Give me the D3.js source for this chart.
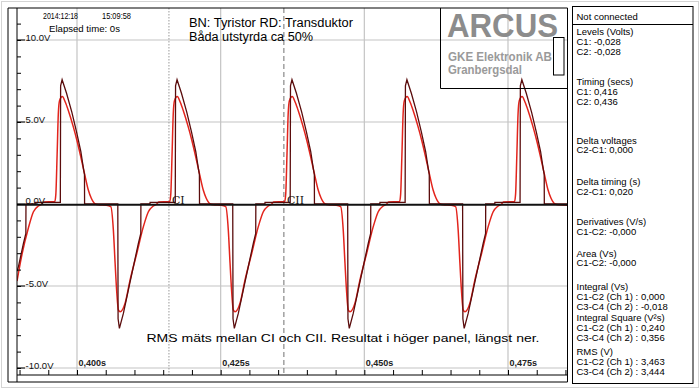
<!DOCTYPE html>
<html>
<head>
<meta charset="utf-8">
<script src="https://cdn.jsdelivr.net/npm/d3@7"></script>
<style>
  body { margin: 0; background: #fff; }
  svg { display: block; }
</style>
</head>
<body>
<svg></svg>
<script>
// BN (thyristor) trace, [time s, volts]
var bnTrace = [
    [0.38956,-4.1],[0.38981,-3.82],[0.39068,-2.4],[0.39110,-1.8],[0.39112,0.0],[0.39270,0.0],[0.39272,0.1],
    [0.39710,0.1],[0.39715,7.2],[0.39741,7.58],[0.39818,6.75],[0.39910,5.6],[0.39992,4.4],[0.40067,3.2],[0.40115,2.1],[0.40130,1.8],[0.40132,0.0],
    [0.40710,0.0],[0.40715,-7.0],[0.40738,-7.58],[0.40807,-6.67],[0.40894,-5.24],[0.40981,-3.82],[0.41068,-2.4],[0.41110,-1.8],[0.41112,0.0],[0.41270,0.0],[0.41272,0.1],
    [0.41710,0.1],[0.41715,7.2],[0.41741,7.58],[0.41818,6.75],[0.41910,5.6],[0.41992,4.4],[0.42067,3.2],[0.42115,2.1],[0.42130,1.8],[0.42132,0.0],
    [0.42710,0.0],[0.42715,-7.0],[0.42738,-7.58],[0.42807,-6.67],[0.42894,-5.24],[0.42981,-3.82],[0.43068,-2.4],[0.43110,-1.8],[0.43112,0.0],[0.43270,0.0],[0.43272,0.1],
    [0.43710,0.1],[0.43715,7.2],[0.43741,7.58],[0.43818,6.75],[0.43910,5.6],[0.43992,4.4],[0.44067,3.2],[0.44115,2.1],[0.44130,1.8],[0.44132,0.0],
    [0.44710,0.0],[0.44715,-7.0],[0.44738,-7.58],[0.44807,-6.67],[0.44894,-5.24],[0.44981,-3.82],[0.45068,-2.4],[0.45110,-1.8],[0.45112,0.0],[0.45270,0.0],[0.45272,0.1],
    [0.45710,0.1],[0.45715,7.2],[0.45741,7.58],[0.45818,6.75],[0.45910,5.6],[0.45992,4.4],[0.46067,3.2],[0.46115,2.1],[0.46130,1.8],[0.46132,0.0],
    [0.46710,0.0],[0.46715,-7.0],[0.46738,-7.58],[0.46807,-6.67],[0.46894,-5.24],[0.46981,-3.82],[0.47068,-2.4],[0.47110,-1.8],[0.47112,0.0],[0.47270,0.0],[0.47272,0.1],
    [0.47710,0.1],[0.47715,7.2],[0.47741,7.58],[0.47818,6.75],[0.47910,5.6],[0.47992,4.4],[0.48067,3.2],[0.48115,2.1],[0.48130,1.8],[0.48132,0.0],[0.48530,0.0]
];

// RD (transductor) trace, [time s, volts]
var rdTrace = [
    [0.38956,-4.7],[0.39041,-3.1],[0.39155,-1.45],[0.39242,-0.47],[0.39329,-0.12],[0.39389,0.0],[0.39420,0.12],
    [0.39614,0.15],[0.39632,0.6],[0.39654,3.0],[0.39675,5.5],[0.39696,6.3],[0.39745,6.55],[0.39797,6.2],[0.39849,5.7],[0.39936,4.7],[0.39997,3.9],[0.40058,3.0],[0.40128,1.9],[0.40197,0.85],[0.40249,0.35],[0.40319,0.0],[0.40371,-0.05],[0.40510,-0.08],
    [0.40588,-0.16],[0.40633,-1.59],[0.40663,-3.6],[0.40693,-5.43],[0.40720,-6.46],[0.40750,-6.57],[0.40837,-6.05],[0.40924,-4.63],[0.41041,-3.0],[0.41155,-1.38],[0.41242,-0.47],[0.41329,-0.12],[0.41389,0.0],[0.41420,0.12],
    [0.41614,0.15],[0.41632,0.6],[0.41654,3.0],[0.41675,5.5],[0.41696,6.3],[0.41745,6.55],[0.41797,6.2],[0.41849,5.7],[0.41936,4.7],[0.41997,3.9],[0.42058,3.0],[0.42128,1.9],[0.42197,0.85],[0.42249,0.35],[0.42319,0.0],[0.42371,-0.05],[0.42510,-0.08],
    [0.42588,-0.16],[0.42633,-1.59],[0.42663,-3.6],[0.42693,-5.43],[0.42720,-6.46],[0.42750,-6.57],[0.42837,-6.05],[0.42924,-4.63],[0.43041,-3.0],[0.43155,-1.38],[0.43242,-0.47],[0.43329,-0.12],[0.43389,0.0],[0.43420,0.12],
    [0.43614,0.15],[0.43632,0.6],[0.43654,3.0],[0.43675,5.5],[0.43696,6.3],[0.43745,6.55],[0.43797,6.2],[0.43849,5.7],[0.43936,4.7],[0.43997,3.9],[0.44058,3.0],[0.44128,1.9],[0.44197,0.85],[0.44249,0.35],[0.44319,0.0],[0.44371,-0.05],[0.44510,-0.08],
    [0.44588,-0.16],[0.44633,-1.59],[0.44663,-3.6],[0.44693,-5.43],[0.44720,-6.46],[0.44750,-6.57],[0.44837,-6.05],[0.44924,-4.63],[0.45041,-3.0],[0.45155,-1.38],[0.45242,-0.47],[0.45329,-0.12],[0.45389,0.0],[0.45420,0.12],
    [0.45614,0.15],[0.45632,0.6],[0.45654,3.0],[0.45675,5.5],[0.45696,6.3],[0.45745,6.55],[0.45797,6.2],[0.45849,5.7],[0.45936,4.7],[0.45997,3.9],[0.46058,3.0],[0.46128,1.9],[0.46197,0.85],[0.46249,0.35],[0.46319,0.0],[0.46371,-0.05],[0.46510,-0.08],
    [0.46588,-0.16],[0.46633,-1.59],[0.46663,-3.6],[0.46693,-5.43],[0.46720,-6.46],[0.46750,-6.57],[0.46837,-6.05],[0.46924,-4.63],[0.47041,-3.0],[0.47155,-1.38],[0.47242,-0.47],[0.47329,-0.12],[0.47389,0.0],[0.47420,0.12],
    [0.47614,0.15],[0.47632,0.6],[0.47654,3.0],[0.47675,5.5],[0.47696,6.3],[0.47745,6.55],[0.47797,6.2],[0.47849,5.7],[0.47936,4.7],[0.47997,3.9],[0.48058,3.0],[0.48128,1.9],[0.48197,0.85],[0.48249,0.35],[0.48319,0.0],[0.48371,-0.05],[0.48530,-0.07]
];

var yTicks = [10, 5, 0, -5, -10];
var yTickLabels = ["10.0V", "5.0V", "0.0V", "-5.0V", "-10.0V"];
var xTicks = [0.400, 0.425, 0.450, 0.475];
var xTickLabels = ["0,400s", "0,425s", "0,450s", "0,475s"];
var cursorTimes = [0.416, 0.436];
var cursorNames = ["CI", "CII"];

var panelRows = [
    "Levels (Volts)", "C1: -0,028", "C2: -0,028",
    "Timing (secs)", "C1: 0,416", "C2: 0,436",
    "Delta voltages", "C2-C1: 0,000",
    "Delta timing (s)", "C2-C1: 0,020",
    "Derivatives (V/s)", "C1-C2: -0,000",
    "Area (Vs)", "C1-C2: -0,000",
    "Integral (Vs)", "C1-C2 (Ch 1) : 0,000", "C3-C4 (Ch 2) : -0,018",
    "Integral Square (V\u00b2s)", "C1-C2 (Ch 1) : 0,240", "C3-C4 (Ch 2) : 0,356",
    "RMS (V)", "C1-C2 (Ch 1) : 3,463", "C3-C4 (Ch 2) : 3,444"
];
// baseline of each panel row
var panelRowY = [35, 45, 55, 85, 94.5, 104.5, 143.5, 153, 185, 194.5, 225, 234.5,
                 256.5, 266, 290, 299.5, 309.5, 321, 331, 341, 354.5, 364.5, 374.5];

var svgWidth = 700, svgHeight = 391;
var plotLeft = 17, plotRight = 567.5, plotTop = 8, plotBottom = 375, frameLeft = 8, frameBottom = 382;
var font = "Liberation Sans, Arial, sans-serif";

var svg = d3.select("svg")
    .attr("width", svgWidth)
    .attr("height", svgHeight)
    .style("background-color", "#fff");

var xScale = d3.scaleLinear().domain([0.400, 0.475]).range([77, 508]),
    yScale = d3.scaleLinear().domain([-10, 10]).range([368, 40]);

// light outer border
svg.append("rect")
    .attr("x", 1.5).attr("y", 1.5).attr("width", svgWidth - 3).attr("height", svgHeight - 5)
    .style("fill", "none").style("stroke", "#d4d4d4");

svg.append("defs").append("clipPath").attr("id", "plotclip")
    .append("rect")
    .attr("x", plotLeft).attr("y", plotTop)
    .attr("width", plotRight - plotLeft).attr("height", plotBottom - plotTop);

// grid
var grid = svg.append("g");
grid.selectAll(".vg").data(xTicks).enter().append("line")
    .attr("x1", function (d) { return xScale(d); })
    .attr("x2", function (d) { return xScale(d); })
    .attr("y1", plotTop).attr("y2", plotBottom)
    .style("stroke", "#c4c4c4").style("stroke-width", 1.2);
grid.selectAll(".hg").data(yTicks.filter(function (d) { return d !== 0; })).enter().append("line")
    .attr("x1", plotLeft).attr("x2", plotRight)
    .attr("y1", function (d) { return yScale(d); })
    .attr("y2", function (d) { return yScale(d); })
    .style("stroke", "#c4c4c4").style("stroke-width", 1.2);

// cursors
svg.selectAll(".cursor").data(cursorTimes).enter().append("line")
    .attr("x1", function (d) { return xScale(d); })
    .attr("x2", function (d) { return xScale(d); })
    .attr("y1", plotTop).attr("y2", plotBottom)
    .style("stroke", function (d, i) { return i === 0 ? "#9a9a9a" : "#707070"; })
    .style("stroke-width", 1)
    .style("stroke-dasharray", function (d, i) { return i === 0 ? "1.5,1.5" : "5,3"; });

// traces
var line = d3.line()
    .x(function (d) { return xScale(d[0]); })
    .y(function (d) { return yScale(d[1]); });

var traces = svg.append("g").attr("clip-path", "url(#plotclip)");

traces.append("path")
    .datum(rdTrace)
    .attr("d", line.curve(d3.curveMonotoneX))
    .style("fill", "none")
    .style("stroke", "#e3241c")
    .style("stroke-width", 1.5);

traces.append("path")
    .datum(bnTrace)
    .attr("d", line.curve(d3.curveLinear))
    .style("fill", "none")
    .style("stroke", "#5a0c0c")
    .style("stroke-width", 1.3);

// zero line
svg.append("line")
    .attr("x1", plotLeft).attr("x2", plotRight)
    .attr("y1", yScale(0) + 0.8).attr("y2", yScale(0) + 0.8)
    .style("stroke", "#111").style("stroke-width", 2);

// cursor names on zero line
svg.selectAll(".cname").data(cursorTimes).enter().append("text")
    .attr("x", function (d) { return xScale(d) + 3; })
    .attr("y", yScale(0) - 0.5)
    .style("font-family", "DejaVu Serif, serif")
    .style("font-size", "11px")
    .style("fill", "#111")
    .text(function (d, i) { return cursorNames[i]; });

// axes: minor ticks
svg.append("g")
    .attr("transform", "translate(" + plotLeft + ",0)")
    .call(d3.axisRight(yScale).tickValues(d3.range(-10, 12)).tickSize(4).tickFormat(""))
    .call(function (g) { g.select(".domain").remove(); })
    .selectAll("line").style("stroke", "#000");

svg.append("g")
    .attr("transform", "translate(0," + plotBottom + ")")
    .call(d3.axisTop(xScale).tickValues(d3.range(78, 98).map(function (i) { return i * 0.005; })).tickSize(5).tickFormat(""))
    .call(function (g) { g.select(".domain").remove(); })
    .selectAll("line").style("stroke", "#000");

// y labels
svg.selectAll(".ytick").data(yTicks).enter().append("line")
    .attr("x1", plotLeft).attr("x2", plotLeft + 8)
    .attr("y1", function (d) { return yScale(d); })
    .attr("y2", function (d) { return yScale(d); })
    .style("stroke", "#000");
svg.selectAll(".ylab").data(yTicks).enter().append("text")
    .attr("x", plotLeft + 8.5)
    .attr("y", function (d) { return yScale(d) - (d === 0 ? 0.5 : -0.5); })
    .style("font-family", font).style("font-size", "9.5px").style("fill", "#111")
    .text(function (d, i) { return yTickLabels[i]; });

// x labels
svg.selectAll(".xlab").data(xTicks).enter().append("text")
    .attr("x", function (d) { return xScale(d) + 1.5; })
    .attr("y", 366)
    .style("font-family", font).style("font-size", "9px").style("font-weight", "bold").style("fill", "#222")
    .text(function (d, i) { return xTickLabels[i]; });

// frame
var frame = svg.append("g").style("stroke", "#000").style("stroke-width", 1).style("fill", "none");
frame.append("line").attr("x1", frameLeft).attr("x2", plotRight).attr("y1", plotTop).attr("y2", plotTop);
frame.append("line").attr("x1", frameLeft).attr("x2", frameLeft).attr("y1", plotTop).attr("y2", frameBottom);
frame.append("line").attr("x1", plotLeft).attr("x2", plotLeft).attr("y1", plotTop).attr("y2", frameBottom);
frame.append("line").attr("x1", plotRight).attr("x2", plotRight).attr("y1", plotTop).attr("y2", frameBottom);
frame.append("line").attr("x1", plotLeft).attr("x2", plotRight).attr("y1", plotBottom).attr("y2", plotBottom);
frame.append("line").attr("x1", frameLeft).attr("x2", plotRight).attr("y1", frameBottom).attr("y2", frameBottom);

// header texts
function addText(x, y, size, txt, len, opts) {
    var t = svg.append("text")
        .attr("x", x).attr("y", y)
        .style("font-family", font)
        .style("font-size", size + "px")
        .style("fill", (opts && opts.fill) || "#000")
        .style("font-weight", (opts && opts.bold) ? "bold" : "normal")
        .text(txt);
    if (len) t.attr("textLength", len).attr("lengthAdjust", "spacingAndGlyphs");
    return t;
}
addText(43, 19, 9.5, "2014:12:18", 35);
addText(102, 19, 9.5, "15:09:58", 29);
addText(49, 31.5, 9.5, "Elapsed time: 0s", 71);
addText(189, 27, 12.5, "BN: Tyristor  RD: Transduktor", 164);
addText(189, 40.5, 12.5, "Båda utstyrda ca 50%", 124);
addText(146.5, 342, 11, "RMS mäts mellan CI och CII. Resultat i höger panel, längst ner.", 393);

// ARCUS logo box
svg.append("path")
    .attr("d", "M440.5,8 V88.5 H567.5")
    .style("fill", "none").style("stroke", "#000").style("stroke-width", 1);
svg.append("rect")
    .attr("x", 553.5).attr("y", 37.5).attr("width", 10.5).attr("height", 37.5)
    .style("fill", "#fff").style("stroke", "#000").style("stroke-width", 1);
addText(447, 36.5, 33, "ARCUS", 111, { bold: true, fill: "#8c8c8c" });
addText(448, 60.5, 12, "GKE Elektronik AB", 104, { bold: true, fill: "#9a9a9a" });
addText(448, 74, 12, "Granbergsdal", 74, { bold: true, fill: "#9a9a9a" });

// right panel
svg.append("rect")
    .attr("x", 572.5).attr("y", 6.5).attr("width", 120.5).attr("height", 377)
    .style("fill", "#fff").style("stroke", "#000").style("stroke-width", 1);
svg.append("line")
    .attr("x1", 572.5).attr("x2", 693).attr("y1", 24.5).attr("y2", 24.5)
    .style("stroke", "#000");
addText(576.5, 19.5, 9.5, "Not connected");

svg.selectAll(".prow").data(panelRows).enter().append("text")
    .attr("x", 576.5)
    .attr("y", function (d, i) { return panelRowY[i]; })
    .style("font-family", font).style("font-size", "9.5px").style("fill", "#000")
    .text(function (d) { return d; });
</script>
</body>
</html>
